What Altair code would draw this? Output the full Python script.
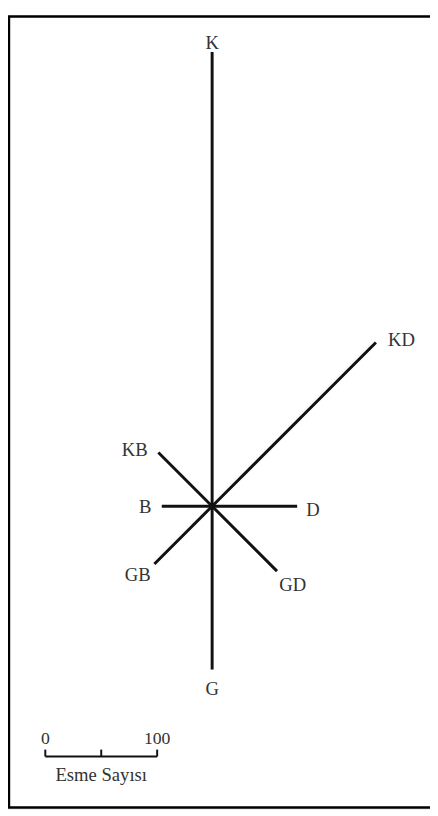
import math
import altair as alt
import pandas as pd

# ---- data ----
directions = ["K", "KD", "D", "GD", "G", "GB", "B", "KB"]
angles_deg = [0, 45, 90, 135, 180, 225, 270, 315]
counts = [406, 207, 76, 82, 146, 73, 45, 68]
scale_ticks = [0, 50, 100]
scale_tick_labels = ["0", "", "100"]
scale_title = "Esme Sayısı"

# ---- layout (pixel) ----
W, H = 430, 808            # plot area = page minus 8px margin
MARGIN = 8
CX, CY = 216, 508          # rose centre on the page
PX = 1.14                  # pixels per count unit
label_off = {              # label offset from arm end, pixels (dx, dy)
    "K": (0, -9), "KD": (26, -2), "D": (16, 4), "GD": (16, 14),
    "G": (0, 20), "GB": (-17, 11), "B": (-17, 1), "KB": (-24, -2),
}
BAR_X0, BAR_Y = 46, 763    # scale bar start (page px)

xdom = [(MARGIN - CX) / PX, (MARGIN + W - CX) / PX]
ydom = [(CY - (MARGIN + H)) / PX, (CY - MARGIN) / PX]
xs = alt.Scale(domain=xdom, nice=False, zero=False)
ys = alt.Scale(domain=ydom, nice=False, zero=False)

rows = []
for d, a, c in zip(directions, angles_deg, counts):
    r = math.radians(a)
    xe, ye = c * math.sin(r), c * math.cos(r)
    ox, oy = label_off[d]
    rows.append(dict(dir=d, count=c, x0=0.0, y0=0.0, x1=xe, y1=ye,
                     lx=xe + ox / PX, ly=ye - oy / PX))
df = pd.DataFrame(rows)

LINE = "#111111"
TEXT = "#333333"
FONT = "Liberation Serif"

arms = alt.Chart(df).mark_rule(color=LINE, strokeWidth=3, strokeCap="butt").encode(
    x=alt.X("x0:Q", scale=xs, axis=None),
    y=alt.Y("y0:Q", scale=ys, axis=None),
    x2="x1:Q", y2="y1:Q",
    tooltip=["dir", "count"],
)
hub = alt.Chart(pd.DataFrame({"x": [0.0], "y": [0.0]})).mark_point(
    filled=True, color=LINE, size=30, opacity=1).encode(
    x=alt.X("x:Q", scale=xs, axis=None), y=alt.Y("y:Q", scale=ys, axis=None))

labels = alt.Chart(df).mark_text(font=FONT, fontSize=19, color=TEXT,
                                 baseline="middle", align="center").encode(
    x=alt.X("lx:Q", scale=xs, axis=None),
    y=alt.Y("ly:Q", scale=ys, axis=None),
    text="dir:N",
)

# scale bar in the same count units
u0 = (BAR_X0 - CX) / PX
vb = (CY - BAR_Y) / PX
tick_len = 7 / PX
bar_df = pd.DataFrame({"x": [u0 + scale_ticks[0]], "x2": [u0 + scale_ticks[-1]],
                       "y": [vb]})
bar = alt.Chart(bar_df).mark_rule(color=LINE, strokeWidth=2).encode(
    x=alt.X("x:Q", scale=xs, axis=None), x2="x2:Q",
    y=alt.Y("y:Q", scale=ys, axis=None))
tick_df = pd.DataFrame({"x": [u0 + t for t in scale_ticks],
                        "y": [vb] * len(scale_ticks),
                        "y2": [vb + tick_len] * len(scale_ticks),
                        "lab": scale_tick_labels,
                        "ly": [vb + 18 / PX] * len(scale_ticks)})
ticks = alt.Chart(tick_df).mark_rule(color=LINE, strokeWidth=2).encode(
    x=alt.X("x:Q", scale=xs, axis=None),
    y=alt.Y("y:Q", scale=ys, axis=None), y2="y2:Q")
tick_labels = alt.Chart(tick_df).mark_text(font=FONT, fontSize=18, color=TEXT,
                                           baseline="middle").encode(
    x=alt.X("x:Q", scale=xs, axis=None),
    y=alt.Y("ly:Q", scale=ys, axis=None), text="lab:N")
title_df = pd.DataFrame({"x": [u0 + scale_ticks[1]], "y": [vb - 19 / PX],
                         "t": [scale_title]})
bar_title = alt.Chart(title_df).mark_text(font=FONT, fontSize=19, color=TEXT,
                                          baseline="middle").encode(
    x=alt.X("x:Q", scale=xs, axis=None),
    y=alt.Y("y:Q", scale=ys, axis=None), text="t:N")

frame = alt.Chart(pd.DataFrame({"a": [0]})).mark_rect(
    fill=None, stroke="#000000", strokeWidth=2.5).encode(
    x=alt.value(1), x2=alt.value(W + 20), y=alt.value(1), y2=alt.value(H - 1))

chart = alt.layer(frame, arms, hub, labels, bar, ticks, tick_labels, bar_title).properties(
    width=W, height=H, padding=0,
    autosize=alt.AutoSizeParams(type="none"),
).configure_view(stroke=None).configure(background="#ffffff")

chart.save("out.html", embed_options={"renderer": "svg", "actions": False})
